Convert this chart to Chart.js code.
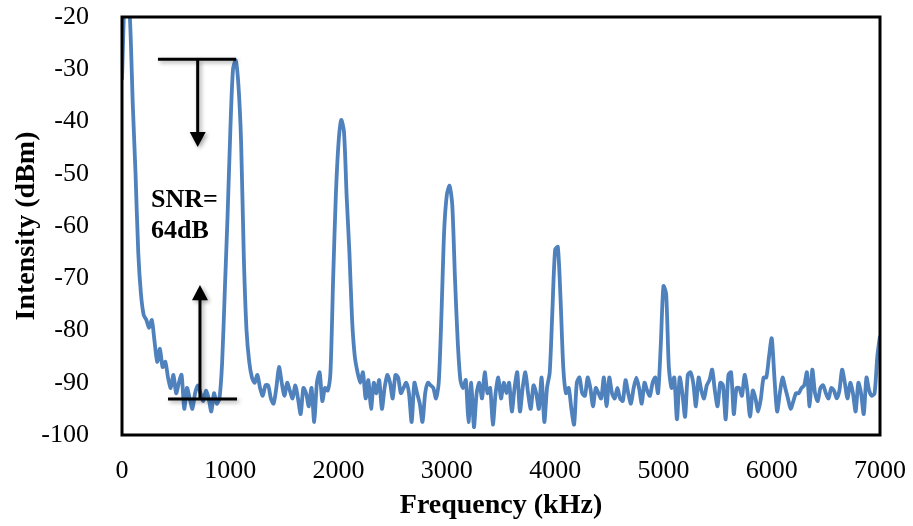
<!DOCTYPE html>
<html>
<head>
<meta charset="utf-8">
<script src="https://cdn.jsdelivr.net/npm/chart.js@4.4.1/dist/chart.umd.min.js"></script>
<style>
  html, body { margin: 0; padding: 0; background: #fff; }
  #wrap { width: 913px; height: 526px; }
</style>
</head>
<body>
<div id="wrap"><canvas id="chart" width="913" height="526"></canvas></div>
<script>
// === Data (25 kHz spacing) ===
const FREQ_STEP = 25;

// 0 - 975 kHz
const band0 = [-32, -16, -14, -21, -37, -50, -65, -73, -77, -78,
  -79.5, -78, -82, -86, -83.5, -87, -86, -89, -91, -88.5,
  -92, -90, -88.5, -95, -91, -93, -95, -92, -90.5, -92,
  -93.5, -91.5, -93, -95.5, -92, -94, -93, -86, -72, -58];
// 1000 - 1975 kHz
const band1 = [-42, -30, -28.3, -33, -44, -66, -80, -86, -89, -90,
  -88.5, -91, -92.5, -90.5, -90.5, -93, -94, -91, -87, -90,
  -92.5, -90, -91.5, -93, -90.5, -93, -96, -91, -92, -94.5,
  -91, -97.5, -90, -88, -93.5, -91, -91.5, -88, -70, -54];
// 2000 - 2975 kHz
const band2 = [-44, -39.7, -42, -54.5, -65, -78, -85, -88, -90, -88,
  -93, -89.5, -95, -90, -92, -89.5, -95, -91, -88.5, -90,
  -93, -88.5, -89, -92, -91, -90, -92, -97.5, -90, -92,
  -94, -97.5, -92, -90, -90.5, -91, -93, -90, -77, -61];
// 3000 - 3975 kHz
const band3 = [-54, -52.3, -56, -70, -82, -89.5, -91, -89.5, -97.5, -90,
  -98.5, -92, -90, -93, -88, -92, -91, -98, -92, -89,
  -93, -90, -92, -90, -95.5, -91, -88, -95.5, -91, -88,
  -92, -95, -90.5, -92, -95, -89, -97.5, -91, -88, -76];
// 4000 - 4975 kHz
const band4 = [-64.5, -64, -74, -87, -92, -91, -95, -98, -90, -89,
  -92, -92.5, -89, -91, -94.5, -91, -92, -93, -89, -94.5,
  -89, -92, -93, -91, -93, -93.5, -89.5, -92, -94, -91,
  -89, -91, -94, -90, -91.5, -92.5, -90, -89, -92, -83];
// 5000 - 5975 kHz
const band5 = [-71.5, -73, -87, -91, -89, -97, -89, -92, -96.5, -88.5,
  -88, -90, -94.5, -89, -91.5, -93, -90.5, -89.5, -87.5, -91.5,
  -94.5, -90, -90.5, -97, -88.5, -88, -96, -91, -91, -92.5,
  -88.5, -91.5, -96.5, -91.5, -93, -95.5, -93, -89, -89, -85];
// 6000 - 7000 kHz
const band6 = [-81.5, -89, -95.5, -92, -89, -91, -93, -95, -93.5, -92,
  -92, -91, -90.5, -88, -94.5, -87.5, -92, -93.5, -91, -90.5,
  -92, -93, -91, -91.5, -93, -91.5, -87.5, -90, -93, -90,
  -92, -95.5, -90, -92, -96, -89, -91.5, -92.5, -92, -85, -81];

const intensity = [...band0, ...band1, ...band2, ...band3, ...band4, ...band5, ...band6];
const frequency = intensity.map((_, i) => i * FREQ_STEP);

const xTicks = [0, 1000, 2000, 3000, 4000, 5000, 6000, 7000];
const yTicks = [-100, -90, -80, -70, -60, -50, -40, -30, -20];

// === Styles ===
const SERIF = "'Liberation Serif', 'Times New Roman', serif";
const LINE_BLUE = "#4F81BD";

// === Frame + SNR annotation ===
const snrPlugin = {
  id: "snrMarks",
  afterDatasetsDraw(chart) {
    const { ctx, chartArea: a, scales: { x, y } } = chart;
    const px = (v) => x.getPixelForValue(v);
    const py = (v) => y.getPixelForValue(v);

    ctx.save();
    // plot frame
    ctx.strokeStyle = "#000";
    ctx.lineWidth = 3;
    ctx.strokeRect(a.left, a.top, a.right - a.left, a.bottom - a.top);

    // bars + arrows with a soft shadow
    ctx.shadowColor = "rgba(0,0,0,0.35)";
    ctx.shadowBlur = 4;
    ctx.shadowOffsetX = 2;
    ctx.shadowOffsetY = 2;
    ctx.lineWidth = 3;
    ctx.lineCap = "butt";

    const line = (x1, y1, x2, y2) => {
      ctx.beginPath();
      ctx.moveTo(px(x1), py(y1));
      ctx.lineTo(px(x2), py(y2));
      ctx.stroke();
    };
    const head = (xv, tipV, baseV) => {
      const cx = px(xv);
      ctx.beginPath();
      ctx.moveTo(cx, py(tipV));
      ctx.lineTo(cx - 8, py(baseV));
      ctx.lineTo(cx + 8, py(baseV));
      ctx.closePath();
      ctx.fillStyle = "#000";
      ctx.fill();
    };

    // top reference (signal level)
    line(332, -28.1, 1053, -28.1);
    line(699, -28.1, 699, -42.2);
    head(699, -44.9, -42.0);

    // bottom reference (noise floor)
    line(425, -93.1, 1062, -93.1);
    line(720, -93.1, 720, -74);
    head(720, -71.3, -74.2);

    ctx.shadowColor = "transparent";
    ctx.fillStyle = "#000";
    ctx.font = "bold 26px " + SERIF;
    ctx.textAlign = "left";
    ctx.textBaseline = "alphabetic";
    ctx.fillText("SNR=", px(268), py(-56.4));
    ctx.fillText("64dB", px(268), py(-62.3));
    ctx.restore();
  },
};

new Chart(document.getElementById("chart"), {
  type: "line",
  data: {
    datasets: [
      {
        data: frequency.map((f, i) => ({ x: f, y: intensity[i] })),
        borderColor: LINE_BLUE,
        borderWidth: 3.8,
        pointRadius: 0,
        tension: 0.25,
        fill: false,
      },
    ],
  },
  options: {
    responsive: false,
    animation: false,
    layout: { padding: { left: 0, right: 33, top: 17, bottom: 0 } },
    plugins: { legend: { display: false }, tooltip: { enabled: false } },
    scales: {
      x: {
        type: "linear",
        min: 0,
        max: 7000,
        afterBuildTicks: (s) => { s.ticks = xTicks.map((v) => ({ value: v })); },
        afterFit: (s) => {
          s.height = 91;
          s.paddingLeft = 0;
          s.paddingRight = 0;
        },
        grid: { display: false },
        border: { display: false },
        ticks: {
          color: "#000",
          padding: 13,
          font: { family: SERIF, size: 26 },
          callback: (v) => String(v),
        },
        title: {
          display: true,
          text: "Frequency (kHz)",
          color: "#000",
          font: { family: SERIF, size: 28, weight: "bold" },
          padding: { top: 0, bottom: 3 },
        },
      },
      y: {
        min: -100,
        max: -20,
        afterBuildTicks: (s) => { s.ticks = yTicks.map((v) => ({ value: v })); },
        afterFit: (s) => {
          s.width = 122;
          s.paddingTop = 0;
          s.paddingBottom = 0;
        },
        grid: { display: false },
        border: { display: false },
        ticks: {
          color: "#000",
          padding: 25,
          font: { family: SERIF, size: 26 },
          callback: (v) => String(v),
        },
        title: {
          display: true,
          text: "Intensity (dBm)",
          color: "#000",
          font: { family: SERIF, size: 28, weight: "bold" },
          padding: { top: 10, bottom: 0 },
        },
      },
    },
  },
  plugins: [snrPlugin],
});
</script>
</body>
</html>
